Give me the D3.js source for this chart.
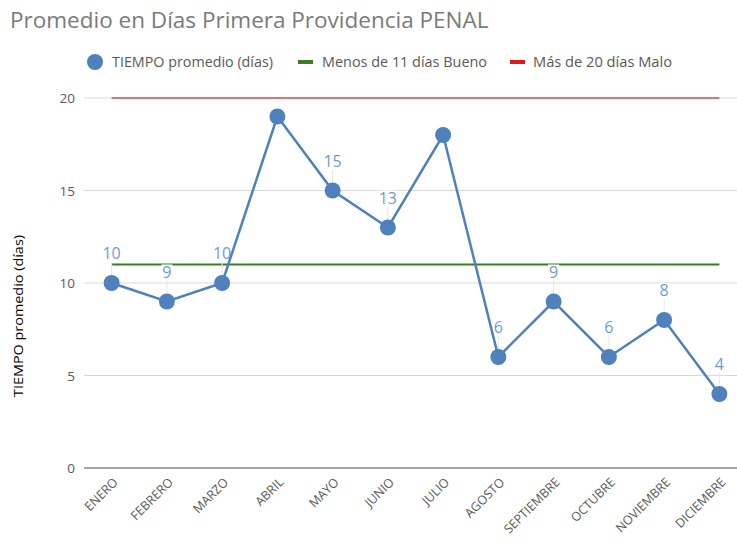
<!DOCTYPE html>
<html>
<head>
<meta charset="utf-8">
<script src="https://cdn.jsdelivr.net/npm/d3@7"></script>
<style>
  body { margin: 0; background: #fff; }
  text { font-family: "Open Sans", sans-serif; }
</style>
</head>
<body>
<div id="chart"></div>
<script>
var months = ["ENERO", "FEBRERO", "MARZO", "ABRIL", "MAYO", "JUNIO", "JULIO", "AGOSTO", "SEPTIEMBRE", "OCTUBRE", "NOVIEMBRE", "DICIEMBRE"];
var tiempo = [10, 9, 10, 19, 15, 13, 18, 6, 9, 6, 8, 4];
// which points carry a data label (ABRIL and JULIO have none in the original)
var showLabel = [true, true, true, false, true, true, false, true, true, true, true, true];
var bueno = 11;
var malo = 20;
var yTicks = [0, 5, 10, 15, 20];

var width = 737,
  height = 546;

var svg = d3.select("#chart")
  .append("svg")
  .attr("width", width)
  .attr("height", height);

var x = d3.scalePoint()
  .domain(months)
  .range([84, 747])
  .padding(0.5);

var y = d3.scaleLinear()
  .domain([0, 20])
  .range([468, 98]);

// title
svg.append("text").text("Promedio en Días Primera Providencia PENAL")
  .attr("x", 10).attr("y", 28)
  .attr("font-size", "22.5px").attr("fill", "#7a7a7a");

// legend
var lg = svg.append("g").attr("font-size", "14px").attr("fill", "#595959");
lg.append("circle").attr("cx", 95).attr("cy", 62).attr("r", 8).attr("fill", "#4f81bd");
lg.append("text").text("TIEMPO promedio (días)").attr("x", 112).attr("y", 67)
  .attr("textLength", 161).attr("lengthAdjust", "spacingAndGlyphs");
lg.append("rect").attr("x", 298).attr("y", 60).attr("width", 15).attr("height", 4).attr("fill", "#3b7d23");
lg.append("text").text("Menos de 11 días Bueno").attr("x", 322).attr("y", 67)
  .attr("textLength", 165).attr("lengthAdjust", "spacingAndGlyphs");
lg.append("rect").attr("x", 510).attr("y", 60).attr("width", 15).attr("height", 4).attr("fill", "#e0181b");
lg.append("text").text("Más de 20 días Malo").attr("x", 533).attr("y", 67)
  .attr("textLength", 139).attr("lengthAdjust", "spacingAndGlyphs");

// gridlines
svg.append("g")
  .selectAll("line")
  .data(yTicks.slice(1))
  .enter()
  .append("line")
  .attr("x1", 84).attr("x2", width)
  .attr("y1", function(d) { return y(d); })
  .attr("y2", function(d) { return y(d); })
  .attr("stroke", "#d9d9d9")
  .attr("stroke-width", 1);

// zero axis
svg.append("line")
  .attr("x1", 84).attr("x2", width)
  .attr("y1", y(0)).attr("y2", y(0))
  .attr("stroke", "#a6a6a6")
  .attr("stroke-width", 2);

// y tick labels
svg.append("g")
  .selectAll("text")
  .data(yTicks)
  .enter()
  .append("text")
  .text(function(d) { return d; })
  .attr("x", 75)
  .attr("y", function(d) { return y(d) + 5; })
  .attr("text-anchor", "end")
  .attr("font-size", "13.5px")
  .attr("fill", "#595959");

// y axis title
svg.append("text").text("TIEMPO promedio (días)")
  .attr("transform", "translate(23," + 316 + ") rotate(-90)")
  .attr("text-anchor", "middle")
  .attr("font-size", "13px")
  .attr("textLength", 162).attr("lengthAdjust", "spacingAndGlyphs")
  .attr("fill", "#000");

// x labels, rotated
svg.append("g")
  .selectAll("text")
  .data(months)
  .enter()
  .append("text")
  .text(function(d) { return d; })
  .attr("transform", function(d) {
    return "translate(" + (x(d) + 7) + "," + 483 + ") rotate(-45)";
  })
  .attr("text-anchor", "end")
  .attr("font-size", "12.5px")
  .attr("fill", "#595959");

// reference lines
svg.append("line")
  .attr("x1", x(months[0])).attr("x2", x(months[months.length - 1]))
  .attr("y1", y(malo)).attr("y2", y(malo))
  .attr("stroke", "#e87070")
  .attr("stroke-width", 2);

svg.append("line")
  .attr("x1", x(months[0])).attr("x2", x(months[months.length - 1]))
  .attr("y1", y(bueno)).attr("y2", y(bueno))
  .attr("stroke", "#3b7d23")
  .attr("stroke-width", 2);

// leader lines + labels (white box behind label)
var lab = svg.append("g");
months.forEach(function(m, i) {
  if (!showLabel[i]) return;
  var px = x(m), py = y(tiempo[i]);
  lab.append("line")
    .attr("x1", px).attr("x2", px)
    .attr("y1", py - 22).attr("y2", py)
    .attr("stroke", "#e6e6e6")
    .attr("stroke-width", 1);
  var t = lab.append("text").text(tiempo[i])
    .attr("x", px).attr("y", py - 24)
    .attr("text-anchor", "middle")
    .attr("font-size", "16px")
    .attr("fill", "#6f9bd6");
  var bb = t.node().getBBox();
  lab.insert("rect", function() { return t.node(); })
    .attr("x", bb.x - 1).attr("y", bb.y + 4)
    .attr("width", bb.width + 2).attr("height", bb.height - 6)
    .attr("fill", "#fff");
});

// series line
var line = d3.line()
  .x(function(d, i) { return x(months[i]); })
  .y(function(d) { return y(d); });

svg.append("path")
  .datum(tiempo)
  .attr("d", line)
  .attr("fill", "none")
  .attr("stroke", "#4f81bd")
  .attr("stroke-width", 2.5);

svg.append("g")
  .selectAll("circle")
  .data(tiempo)
  .enter()
  .append("circle")
  .attr("cx", function(d, i) { return x(months[i]); })
  .attr("cy", function(d) { return y(d); })
  .attr("r", 8)
  .attr("fill", "#4f81bd");
</script>
</body>
</html>
